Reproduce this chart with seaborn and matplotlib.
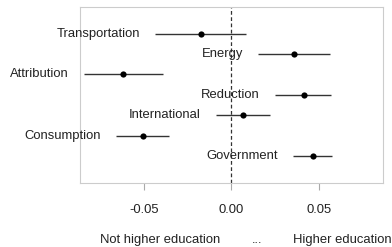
import pandas as pd
import matplotlib.pyplot as plt
import seaborn as sns

topics = ['Government', 'Consumption', 'International', 'Reduction',
          'Attribution', 'Energy', 'Transportation']
estimate = [0.0465, -0.0505, 0.0070, 0.0415, -0.0619, 0.0360, -0.0173]
ci_low = [0.0353, -0.0657, -0.0086, 0.0248, -0.0844, 0.0156, -0.0434]
ci_high = [0.0575, -0.0358, 0.0223, 0.0573, -0.0390, 0.0566, 0.0086]

df = pd.DataFrame({'topic': topics, 'estimate': estimate,
                   'low': ci_low, 'high': ci_high})
df['pos'] = range(1, len(df) + 1)

sns.set_theme(style='white')
plt.rcParams['font.family'] = ['Liberation Sans', 'DejaVu Sans']

fs = 9.4
fig, ax = plt.subplots(figsize=(3.92, 2.47), dpi=100)
fig.subplots_adjust(left=0.204, right=0.977, top=0.972, bottom=0.26)

ax.hlines(df['pos'], df['low'], df['high'], color='#333333', linewidth=1.0, zorder=2)
sns.scatterplot(data=df, x='estimate', y='pos', color='black', s=20,
                edgecolor='black', linewidth=0, ax=ax, zorder=3)
ax.axvline(0, color='#333333', linestyle=(0, (3, 2)), linewidth=0.9, zorder=1)

for _, r in df.iterrows():
    ax.annotate(r['topic'], xy=(r['low'], r['pos']), xytext=(-11, 0),
                textcoords='offset points', ha='right', va='center',
                fontsize=fs, color='#222222', annotation_clip=False)

ax.set_xlim(-0.0865, 0.0868)
ax.set_ylim(-0.32, 8.32)
ax.set_yticks([])
ax.set_xticks([-0.05, 0.0, 0.05])
ax.set_xticklabels(['-0.05', '0.00', '0.05'])
ax.set_xlabel('')
ax.set_ylabel('')
ax.tick_params(axis='x', colors='#aaaaaa', labelcolor='#222222', length=5,
               width=0.8, pad=10, labelsize=fs, bottom=True)
for s in ax.spines.values():
    s.set_color('#cccccc')
    s.set_linewidth(0.8)

tr = ax.get_xaxis_transform()
ax.text(-0.0406, -0.325, 'Not higher education', transform=tr, ha='center',
        va='center', fontsize=fs, color='#222222')
ax.text(0.0149, -0.325, '...', transform=tr, ha='center', va='center',
        fontsize=fs, color='#222222')
ax.text(0.0634, -0.325, 'Higher education', transform=tr, ha='center',
        va='center', fontsize=fs, color='#222222')

fig.savefig('out.png', dpi=100)
